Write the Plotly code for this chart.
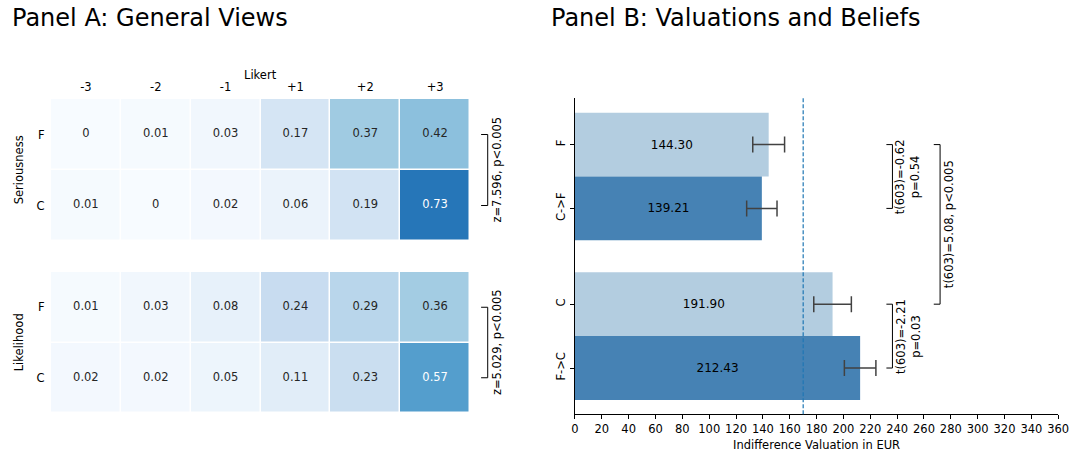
import plotly.graph_objects as go

# ---------------- data ----------------
likert_labels = ["-3", "-2", "-1", "+1", "+2", "+3"]
row_labels = ["F", "C"]
seriousness_F = [0, 0.01, 0.03, 0.17, 0.37, 0.42]
seriousness_C = [0.01, 0, 0.02, 0.06, 0.19, 0.73]
likelihood_F = [0.01, 0.03, 0.08, 0.24, 0.29, 0.36]
likelihood_C = [0.02, 0.02, 0.05, 0.11, 0.23, 0.57]
seriousness_stat = "z=7.596, p&lt;0.005"
likelihood_stat = "z=5.029, p&lt;0.005"

bar_categories = ["F", "C->F", "C", "F->C"]
bar_positions = [0, 1, 2.5, 3.5]
bar_values = [144.30, 139.21, 191.90, 212.43]
bar_errors = [11.85, 11.3, 14.0, 11.75]
reference_value = 170
x_ticks = list(range(0, 361, 20))

# ---------------- style ----------------
W, H = 1084, 453
FONT = "DejaVu Sans"
FS = 11.5
DARK_TXT = "#262626"
LIGHT_BAR = "#b3cde0"
DARK_BAR = "#4682b4"
blues = ["#f7fbff", "#deebf7", "#c6dbef", "#9ecae1", "#6baed6",
         "#4292c6", "#2171b5", "#08519c", "#08306b"]
blues_scale = [[i / 8, c] for i, c in enumerate(blues)]


def px(x):
    return x / W


def py(y):
    return 1 - y / H


fig = go.Figure()

# ---------------- Panel A heatmaps ----------------
heat_sets = [
    ("x", "y", [seriousness_F, seriousness_C]),
    ("x2", "y2", [likelihood_F, likelihood_C]),
]
cols = list(range(len(likert_labels)))
rows = list(range(len(row_labels)))
for xa, ya, z in heat_sets:
    fig.add_trace(go.Heatmap(
        z=z, x=cols, y=rows, xaxis=xa, yaxis=ya,
        colorscale=blues_scale, zmin=0, zmax=1, showscale=False,
        xgap=1.5, ygap=1.5, hoverinfo="skip"))
    tx, ty, tt, tc = [], [], [], []
    for r in rows:
        for c in cols:
            v = z[r][c]
            tx.append(c)
            ty.append(r)
            tt.append(f"{v:g}")
            tc.append("white" if v >= 0.5 else DARK_TXT)
    fig.add_trace(go.Scatter(
        x=tx, y=ty, text=tt, mode="text", xaxis=xa, yaxis=ya,
        textfont=dict(family=FONT, size=FS, color=tc),
        hoverinfo="skip", showlegend=False))

hx_dom = [px(47.6), px(472.6)]
common_hx = dict(domain=hx_dom, range=[-0.5, 5.5], showgrid=False,
                 zeroline=False, showline=False,
                 tickvals=cols, ticktext=likert_labels,
                 tickfont=dict(family=FONT, size=FS, color="black"))
common_hy = dict(range=[1.5, -0.5], showgrid=False, zeroline=False,
                 showline=False, tickvals=rows, ticktext=row_labels,
                 ticks="outside", ticklen=3, tickcolor="rgba(0,0,0,0)",
                 tickfont=dict(family=FONT, size=FS, color="black"))
fig.update_layout(
    xaxis=dict(**common_hx, side="top", anchor="y", ticks="outside",
               ticklen=2, tickcolor="rgba(0,0,0,0)"),
    yaxis=dict(**common_hy, domain=[py(241), py(99)], anchor="x"),
    xaxis2=dict(**common_hx, anchor="y2", showticklabels=False),
    yaxis2=dict(**common_hy, domain=[py(413), py(272)], anchor="x2"),
)

# brackets for heatmaps
for ya, stat in [("y", seriousness_stat), ("y2", likelihood_stat)]:
    xv, xt = px(490.5), px(483.8)
    line = dict(color="black", width=1)
    fig.add_shape(type="line", xref="paper", yref=ya, x0=xv, x1=xv,
                  y0=0, y1=1, line=line)
    for yy in (0, 1):
        fig.add_shape(type="line", xref="paper", yref=ya, x0=xt, x1=xv,
                      y0=yy, y1=yy, line=line)
    fig.add_annotation(xref="paper", yref=ya, x=px(499.5), y=0.5,
                       text=stat, textangle=-90, showarrow=False,
                       xanchor="center", yanchor="middle",
                       font=dict(family=FONT, size=FS, color="black"))

# ---------------- Panel B bars ----------------
fig.add_trace(go.Bar(
    x=bar_values, y=bar_positions, orientation="h",
    xaxis="x3", yaxis="y3", width=1,
    marker=dict(color=[LIGHT_BAR, DARK_BAR, LIGHT_BAR, DARK_BAR],
                line=dict(width=0)),
    error_x=dict(type="data", array=bar_errors, color="#424242",
                 thickness=1.5, width=8),
    text=[f"{v:.2f}" for v in bar_values],
    textposition="inside", insidetextanchor="middle",
    textfont=dict(family=FONT, size=FS + 0.5, color="black"),
    constraintext="none", hoverinfo="skip", showlegend=False))

fig.update_layout(
    xaxis3=dict(domain=[px(579), px(1069)], range=[0, 360], anchor="y3",
                showgrid=False, zeroline=False, showline=True,
                linecolor="black", linewidth=1, ticks="outside",
                ticklen=4, tickcolor="black", tickvals=x_ticks,
                tickfont=dict(family=FONT, size=FS, color="black")),
    yaxis3=dict(domain=[py(414.3), py(98.3)], range=[4.225, -0.725],
                anchor="x3", showgrid=False, zeroline=False,
                showline=True, linecolor="black", linewidth=1,
                ticks="outside", ticklen=4, tickcolor="black",
                tickvals=bar_positions, ticktext=bar_categories,
                tickangle=-90,
                tickfont=dict(family=FONT, size=FS, color="black")),
)

fig.add_shape(type="line", xref="x3", yref="y3 domain",
              x0=reference_value, x1=reference_value, y0=0, y1=1,
              line=dict(color="#1f77b4", width=1.2, dash="4px,2px"))

bracket_specs = [
    (0, 1, 236.5, 232.0, 248.0, "t(603)=-0.62<br>p=0.54"),
    (2.5, 3.5, 236.5, 232.0, 248.0, "t(603)=-2.21<br>p=0.03"),
    (0, 2.5, 272.0, 267.3, 279.2, "t(603)=5.08, p&lt;0.005"),
]
for y0, y1, xv, xt, xtext, label in bracket_specs:
    fig.add_shape(type="path", xref="x3", yref="y3",
                  path=f"M {xt},{y0} L {xv},{y0} L {xv},{y1} L {xt},{y1}",
                  line=dict(color="black", width=1))
    fig.add_annotation(xref="x3", yref="y3", x=xtext, y=(y0 + y1) / 2,
                       text=label, textangle=-90, showarrow=False,
                       xanchor="center", yanchor="middle", align="center",
                       font=dict(family=FONT, size=FS, color="black"))

# ---------------- titles / labels ----------------
def label(text, x, y, size=FS, angle=0, xanchor="center"):
    fig.add_annotation(xref="paper", yref="paper", x=px(x), y=py(y),
                       text=text, textangle=angle, showarrow=False,
                       xanchor=xanchor, yanchor="middle",
                       font=dict(family=FONT, size=size, color="black"))

label("Panel A: General Views", 6, 18, size=24, xanchor="left")
label("Panel B: Valuations and Beliefs", 553, 18, size=24, xanchor="left")
label("Likert", 260, 75)
label("Seriousness", 15.5, 170, angle=-90)
label("Likelihood", 15.5, 342, angle=-90)
label("Indifference Valuation in EUR", 824, 445)

fig.update_layout(width=W, height=H, margin=dict(l=0, r=0, t=0, b=0),
                  paper_bgcolor="white", plot_bgcolor="white",
                  showlegend=False, font=dict(family=FONT))

fig.write_html(
    "out.html",
    config={"displayModeBar": False},
    post_script="document.body.style.margin='0';"
                "document.body.style.padding='0';"
                "document.documentElement.style.overflow='hidden';",
)
